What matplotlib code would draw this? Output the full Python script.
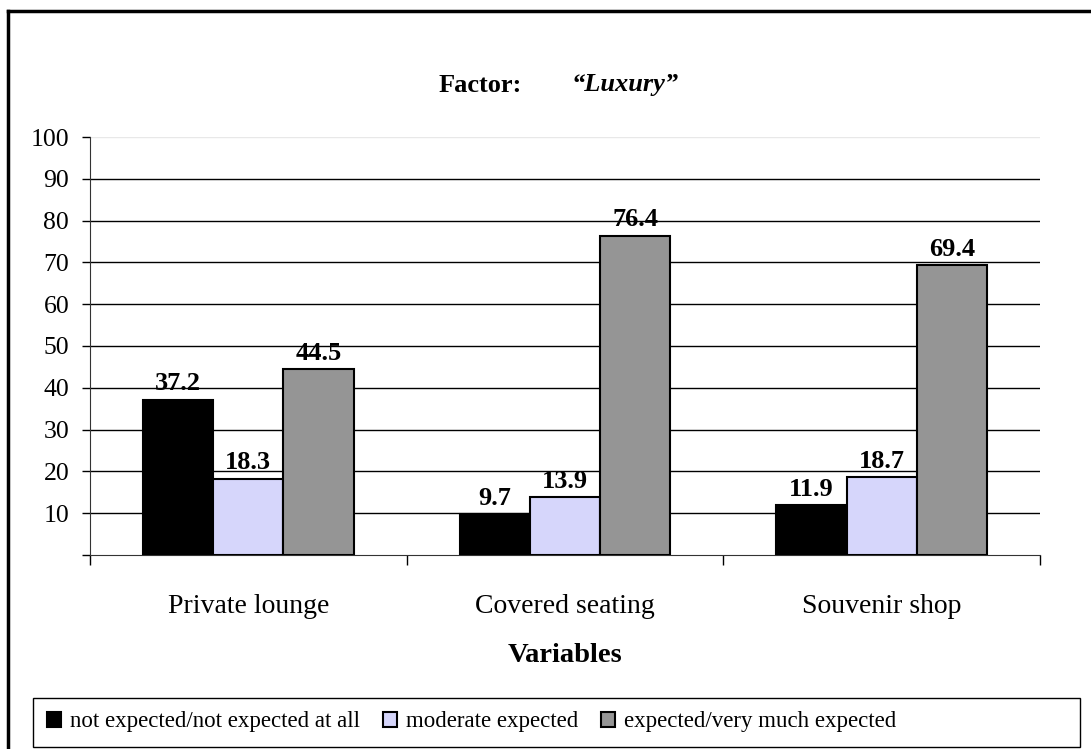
import matplotlib.pyplot as plt
import numpy as np
from matplotlib.lines import Line2D
from matplotlib.patches import Rectangle

plt.rcParams['font.family'] = ['Liberation Serif', 'DejaVu Serif']

# data
categories = ["Private lounge", "Covered seating", "Souvenir shop"]
series_names = ["not expected/not expected at all", "moderate expected",
                "expected/very much expected"]
not_expected = [37.2, 9.7, 11.9]
moderate = [18.3, 13.9, 18.7]
expected = [44.5, 76.4, 69.4]
y_ticks = [10, 20, 30, 40, 50, 60, 70, 80, 90, 100]

colors = ["#000000", "#d6d6fb", "#959595"]
W, H = 1091, 749

fig = plt.figure(figsize=(W / 100, H / 100), dpi=100)
ax = fig.add_axes([90 / W, 1 - 555 / H, (1040 - 90) / W, (555 - 137) / H])

x = np.arange(len(categories))
bw = 0.222
for i, (vals, name, col) in enumerate(zip([not_expected, moderate, expected], series_names, colors)):
    bars = ax.bar(x + (i - 1) * bw, vals, bw, color=col, edgecolor="black",
                  linewidth=1.5, label=name, zorder=3)
    for b, v in zip(bars, vals):
        ax.annotate(f"{v:.1f}", (b.get_x() + b.get_width() / 2, v),
                    xytext=(0, 3), textcoords="offset points",
                    ha="center", va="bottom", fontsize=19, fontweight="bold")

ax.set_xlim(-0.5, 2.5)
ax.set_ylim(0, 100)
ax.set_yticks([0] + y_ticks)
ax.set_yticklabels([""] + [str(t) for t in y_ticks])
for t in y_ticks[:-1]:
    ax.axhline(t, color="black", linewidth=1, zorder=1)
ax.axhline(100, color="#e8e8e8", linewidth=1, zorder=1)

ax.set_xticks(x)
ax.set_xticklabels(categories)
ax.set_xticks([-0.5, 0.5, 1.5, 2.5], minor=True)
ax.tick_params(axis="x", which="major", length=0, pad=28, labelsize=20)
ax.tick_params(axis="x", which="minor", length=7, width=1, direction="out")
ax.tick_params(axis="y", length=6, width=1, direction="out", pad=9, labelsize=18.5)

for s in ["top", "right"]:
    ax.spines[s].set_visible(False)
ax.spines["left"].set_color("#333333")
ax.spines["bottom"].set_color("#333333")
ax.spines["left"].set_bounds(0, 100)

# title
fig.text(522 / W, 1 - 85 / H, "Factor:", ha="right", va="center",
         fontsize=19, fontweight="bold")
fig.text(572 / W, 1 - 85 / H, "\u201cLuxury\u201d", ha="left", va="center",
         fontsize=19, fontweight="bold", style="italic")

fig.text(565 / W, 1 - 655 / H, "Variables", ha="center", va="center",
         fontsize=20.5, fontweight="bold")

# legend
handles, labels = ax.get_legend_handles_labels()
fig.legend(handles, labels, loc="center left",
           bbox_to_anchor=(38 / W, 1 - 722 / H), ncol=3, frameon=False,
           fontsize=16.5, handlelength=0.6, handleheight=0.6, handletextpad=0.4,
           columnspacing=1.0, borderaxespad=0)
fig.add_artist(Rectangle((33 / W, 1 - 747 / H), (1080 - 33) / W, 49 / H,
                         transform=fig.transFigure, fill=False,
                         edgecolor="black", linewidth=1))

# outer frame (top and left)
fig.add_artist(Line2D([8 / W, 8 / W], [0, 1 - 11 / H], transform=fig.transFigure,
                      color="black", linewidth=2.5))
fig.add_artist(Line2D([8 / W, 1], [1 - 11 / H, 1 - 11 / H], transform=fig.transFigure,
                      color="black", linewidth=2.5))

fig.savefig("out.png", dpi=100)
